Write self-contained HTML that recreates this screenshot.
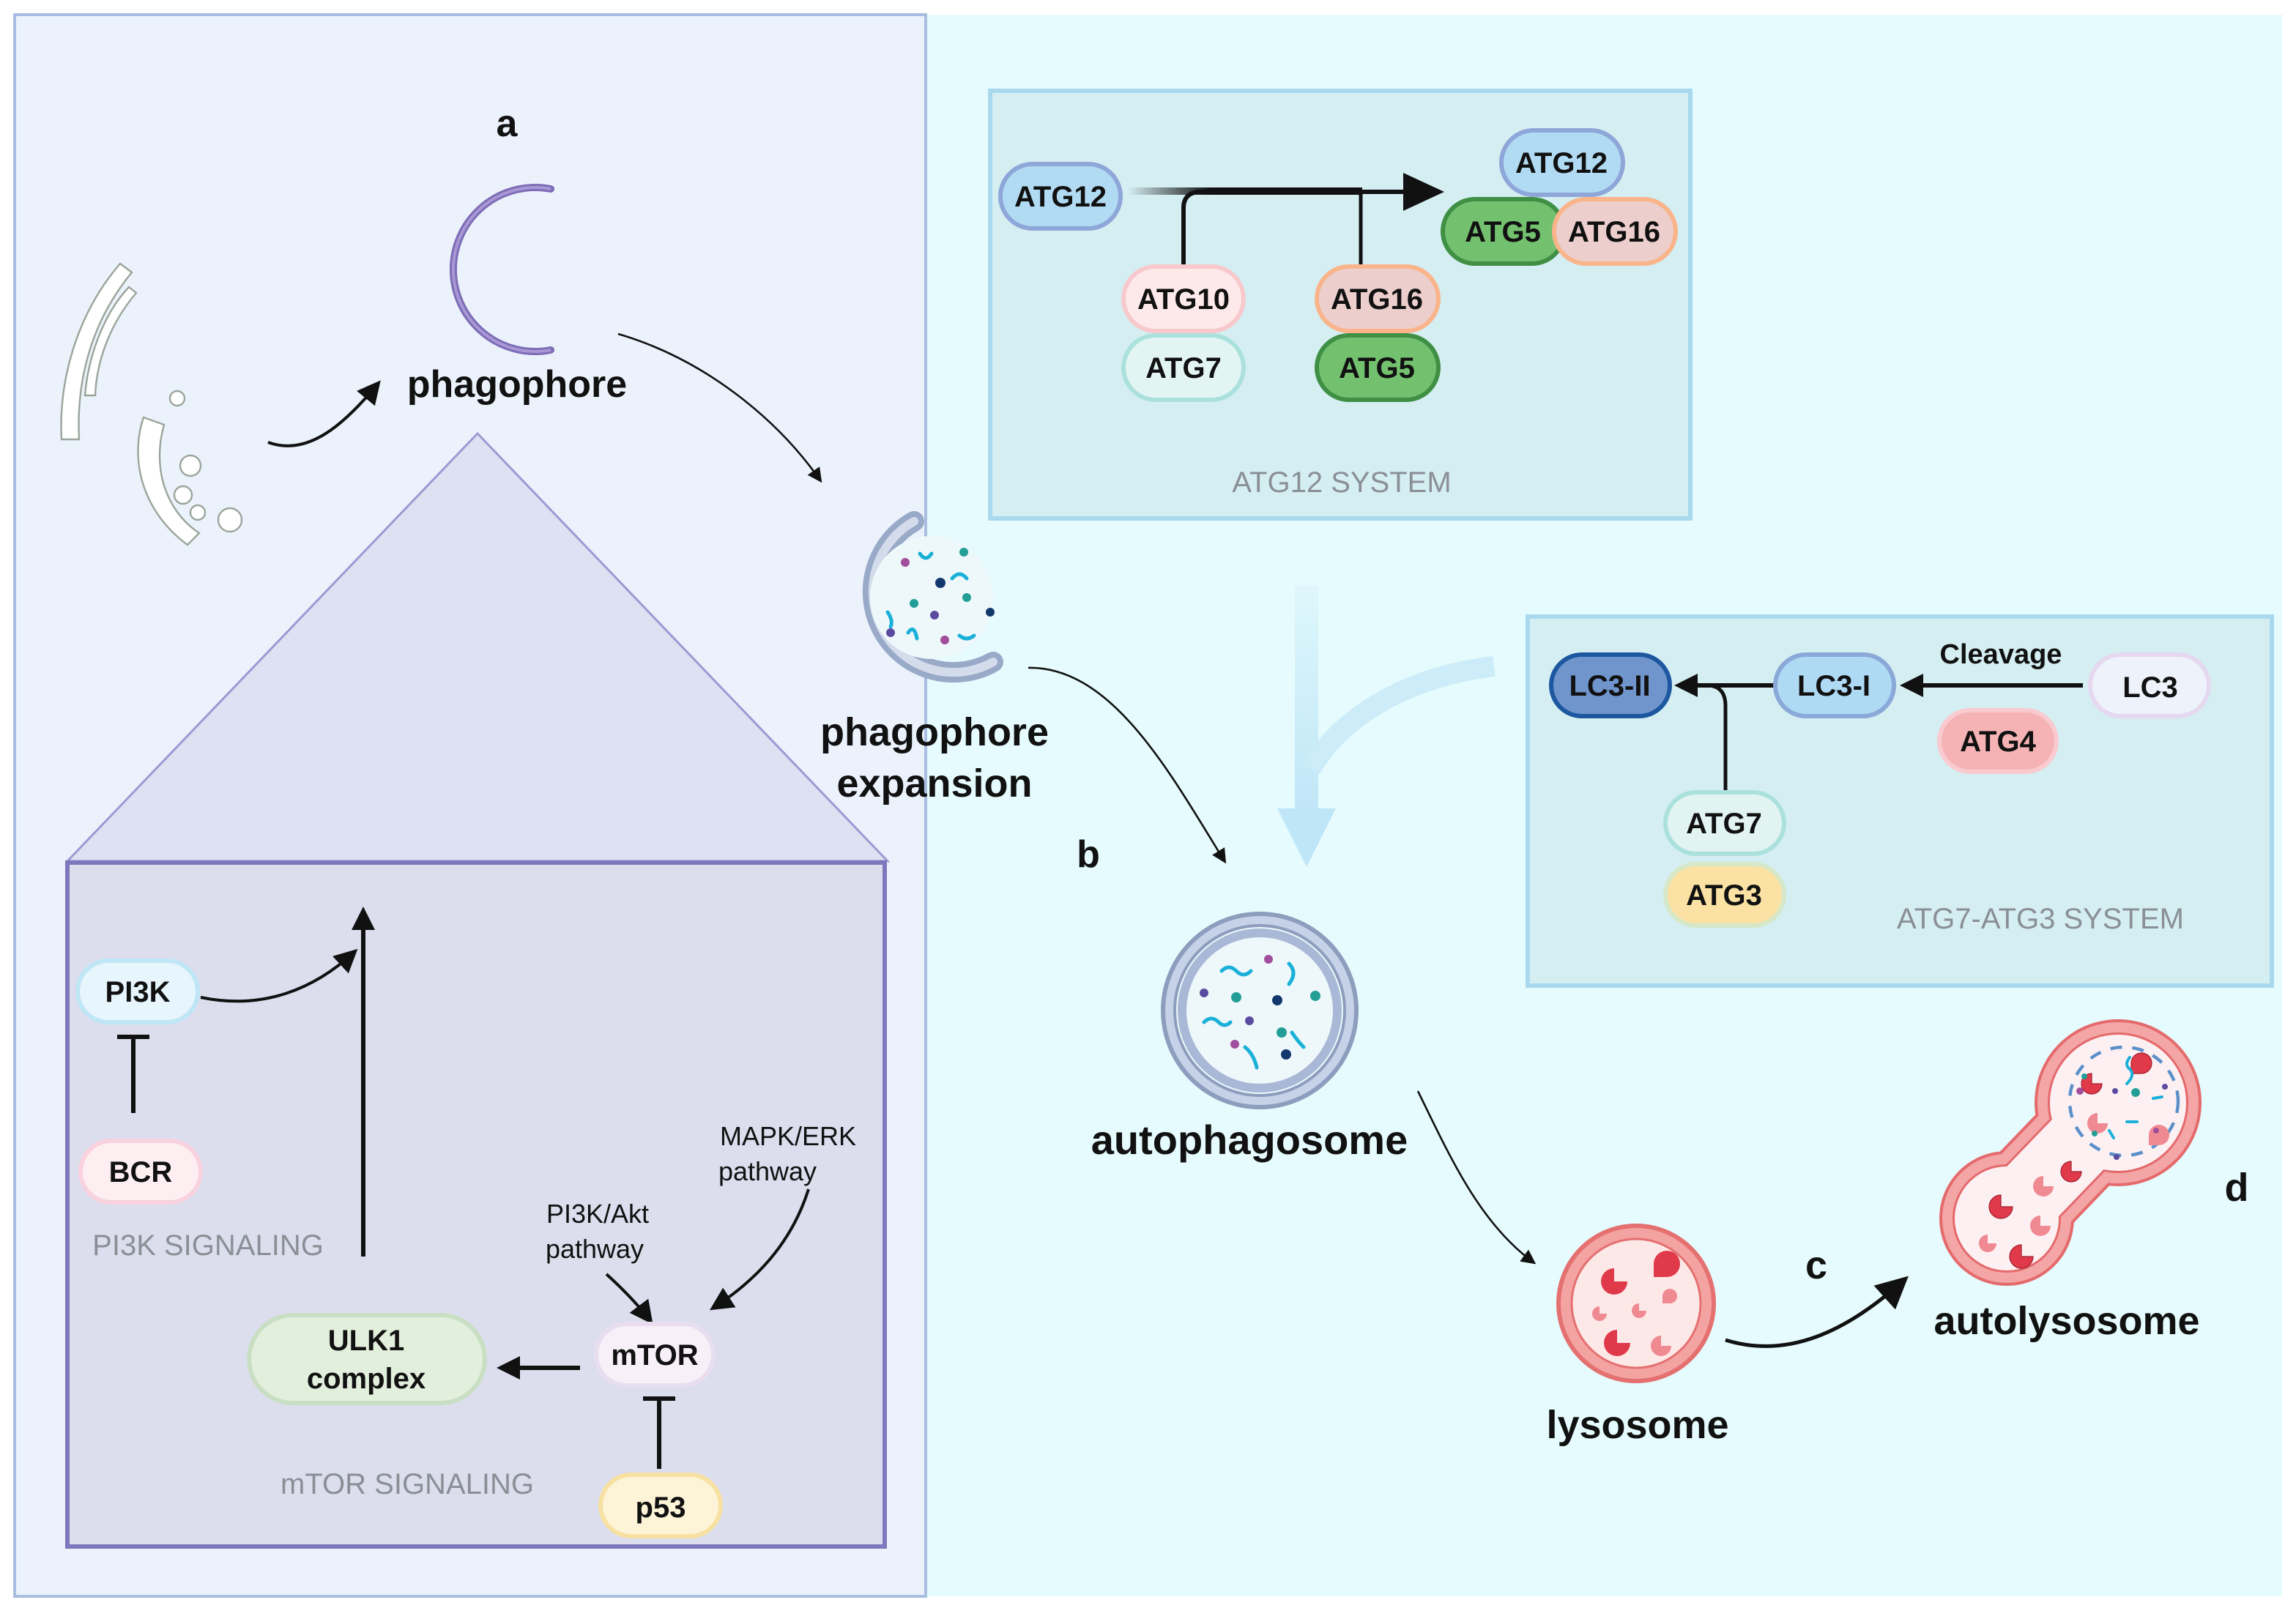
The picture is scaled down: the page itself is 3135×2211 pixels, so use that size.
<!DOCTYPE html>
<html><head><meta charset="utf-8"><style>
html,body{margin:0;padding:0;background:#fff;}
svg{display:block;}
text{font-family:"Liberation Sans Narrow","Liberation Sans",sans-serif;}
.b{font-weight:bold;fill:#111;}
.g{fill:#8a8f96;}
</style></head><body>
<svg width="3135" height="2211" viewBox="0 0 1567.5 1105.5" xmlns="http://www.w3.org/2000/svg">
<defs>
<marker id="ah" markerWidth="10" markerHeight="10" refX="8" refY="5" orient="auto" markerUnits="userSpaceOnUse"><path d="M0,0 L10,5 L0,10 z" fill="#111"/></marker>
<marker id="ahb" markerWidth="22" markerHeight="22" refX="18" refY="11" orient="auto" markerUnits="userSpaceOnUse"><path d="M0,0 L22,11 L0,22 z" fill="#111"/></marker>
<marker id="ahm" markerWidth="16" markerHeight="16" refX="13" refY="8" orient="auto" markerUnits="userSpaceOnUse"><path d="M0,0 L16,8 L0,16 z" fill="#111"/></marker>
<linearGradient id="fade" x1="0" x2="1"><stop offset="0" stop-color="#111" stop-opacity="0"/><stop offset="0.35" stop-color="#111"/></linearGradient>
<linearGradient id="bfade" x1="0" y1="0" x2="0" y2="1"><stop offset="0" stop-color="#bfe6f7" stop-opacity="0.2"/><stop offset="1" stop-color="#bfe6f7"/></linearGradient>
</defs>
<rect x="0" y="0" width="1568" height="1106" fill="#fff"/>
<rect x="632" y="10" width="926" height="1080" fill="#e6fbfd"/>
<rect x="10" y="10" width="622" height="1080" fill="#ebf2fc" stroke="#a8bde0" stroke-width="2"/>

<!-- house -->
<polygon points="326,296 46,588 606,588" fill="#dde1f1" stroke="#9c9ad3" stroke-width="1.5"/>
<rect x="46" y="589" width="558" height="467" fill="#dcdeee" stroke="#7f77bd" stroke-width="3"/>

<!-- ER & golgi -->
<g fill="#fff" stroke="#9aa59a" stroke-width="1.2">
<path d="M42,300 C40,260 52,215 82,180 L90,186 C62,220 52,260 54,300 Z"/>
<path d="M58,270 C60,245 70,215 88,196 L93,200 C76,220 66,245 65,270 Z"/>
<path d="M98,285 C88,315 98,350 128,372 L136,364 C112,348 104,318 112,290 Z"/>
<circle cx="121" cy="272" r="5"/><circle cx="130" cy="318" r="7"/><circle cx="125" cy="338" r="6"/><circle cx="157" cy="355" r="8"/>
<circle cx="135" cy="350" r="5"/>
</g>
<path d="M183,302 C210,312 235,290 258,262" fill="none" stroke="#111" stroke-width="2" marker-end="url(#ahm)"/>

<!-- phagophore -->
<text x="346" y="93" class="b" font-size="26" text-anchor="middle">a</text>
<path d="M376,129 A56,56 0 1 0 376,239" fill="none" stroke="#7e6cb6" stroke-width="5" stroke-linecap="round"/>
<path d="M376,129 A56,56 0 1 0 376,239" fill="none" stroke="#a898d6" stroke-width="2"/>
<text x="353" y="271" class="b" font-size="26" text-anchor="middle">phagophore</text>
<path d="M422,228 C480,245 530,285 560,328" fill="none" stroke="#111" stroke-width="1.3" marker-end="url(#ah)"/>

<!-- phagophore expansion -->
<path d="M624,356 A55,55 0 1 0 678,452" fill="none" stroke="#99a9c8" stroke-width="14" stroke-linecap="round"/>
<path d="M624,356 A55,55 0 1 0 678,452" fill="none" stroke="#d4dcec" stroke-width="6" stroke-linecap="round"/>
<circle cx="636" cy="408" r="42" fill="#eef8fb"/>
<g fill="none" stroke="#1ab0d8" stroke-width="2.5" stroke-linecap="round">
<path d="M628,378 q4,6 8,0"/><path d="M650,395 q5,-6 10,0"/><path d="M606,418 q4,6 2,10"/><path d="M620,432 q4,-6 6,4"/><path d="M655,434 q5,4 10,0"/>
</g>
<g><circle cx="618" cy="384" r="3" fill="#a14e9c"/><circle cx="658" cy="377" r="3" fill="#229e96"/><circle cx="642" cy="398" r="3.5" fill="#12386e"/><circle cx="624" cy="412" r="3" fill="#229e96"/><circle cx="660" cy="408" r="3" fill="#229e96"/><circle cx="676" cy="418" r="3" fill="#12386e"/><circle cx="608" cy="432" r="3" fill="#5b4ba0"/><circle cx="645" cy="437" r="3" fill="#a14e9c"/><circle cx="638" cy="420" r="3" fill="#5b4ba0"/></g>
<text x="638" y="509" class="b" font-size="27" text-anchor="middle">phagophore</text>
<text x="638" y="544" class="b" font-size="27" text-anchor="middle">expansion</text>
<text x="743" y="592" class="b" font-size="26" text-anchor="middle">b</text>
<path d="M702,456 C760,455 800,530 836,588" fill="none" stroke="#111" stroke-width="1.3" marker-end="url(#ah)"/>

<!-- blue flow arrows -->
<rect x="884" y="400" width="16" height="160" fill="url(#bfade)"/>
<polygon points="872,552 912,552 892,592" fill="#bfe6f7"/>
<path d="M1020,455 C960,462 915,490 895,525" fill="none" stroke="#cbecf8" stroke-width="14"/>

<!-- ATG12 system -->
<rect x="676" y="62" width="478" height="292" fill="#d5eef2" stroke="#a9d9ef" stroke-width="3"/>
<rect x="770" y="128" width="160" height="5" fill="url(#fade)"/>
<path d="M808,182 L808,142 Q808,131 820,131 L965,131" fill="none" stroke="#111" stroke-width="3"/>
<polygon points="958,118 986,131 958,144" fill="#111"/>
<line x1="929" y1="131" x2="929" y2="183" stroke="#111" stroke-width="2.5"/>
<g font-size="20" class="b" text-anchor="middle">
<rect x="683" y="112" width="82" height="44" rx="22" fill="#b1dbf3" stroke="#8ea6d8" stroke-width="3"/><text x="724" y="141">ATG12</text>
<rect x="767" y="182" width="82" height="44" rx="22" fill="#fde9ea" stroke="#f7c9cc" stroke-width="3"/><text x="808" y="211">ATG10</text>
<rect x="767" y="229" width="82" height="44" rx="22" fill="#e3f5f3" stroke="#abe1dc" stroke-width="3"/><text x="808" y="258">ATG7</text>
<rect x="899" y="182" width="83" height="44" rx="22" fill="#eccfcd" stroke="#f9b48a" stroke-width="3"/><text x="940" y="211">ATG16</text>
<rect x="899" y="229" width="83" height="44" rx="22" fill="#73c06f" stroke="#3f8f45" stroke-width="3"/><text x="940" y="258">ATG5</text>
<rect x="1025" y="89" width="83" height="44" rx="22" fill="#b1dbf3" stroke="#8ea6d8" stroke-width="3"/><text x="1066" y="118">ATG12</text>
<rect x="985" y="136" width="83" height="44" rx="22" fill="#73c06f" stroke="#3f8f45" stroke-width="3"/><text x="1026" y="165">ATG5</text>
<rect x="1061" y="136" width="83" height="44" rx="22" fill="#eccfcd" stroke="#f9b48a" stroke-width="3"/><text x="1102" y="165">ATG16</text>
</g>
<text x="916" y="336" class="g" font-size="20" text-anchor="middle">ATG12 SYSTEM</text>

<!-- ATG7-ATG3 system -->
<rect x="1043" y="421" width="508" height="252" fill="#d5eef2" stroke="#a9d9ef" stroke-width="3"/>
<line x1="1422" y1="468" x2="1300" y2="468" stroke="#111" stroke-width="3" marker-end="url(#ahm)"/>
<line x1="1212" y1="468" x2="1146" y2="468" stroke="#111" stroke-width="3" marker-end="url(#ahm)"/>
<path d="M1178,541 L1178,482 Q1178,468 1165,468" fill="none" stroke="#111" stroke-width="2.5"/>
<text x="1366" y="453" class="b" font-size="19" text-anchor="middle">Cleavage</text>
<g font-size="20" class="b" text-anchor="middle">
<rect x="1059" y="447" width="81" height="42" rx="21" fill="#6f95cc" stroke="#1d57a0" stroke-width="3"/><text x="1099" y="475">LC3-II</text>
<rect x="1212" y="447" width="81" height="42" rx="21" fill="#aedaf4" stroke="#8aa8d8" stroke-width="3"/><text x="1252" y="475">LC3-I</text>
<rect x="1427" y="447" width="81" height="42" rx="21" fill="#eef3fb" stroke="#e5d8ef" stroke-width="3"/><text x="1468" y="476">LC3</text>
<rect x="1324" y="485" width="80" height="42" rx="21" fill="#f5b3b5" stroke="#f9cbd0" stroke-width="3"/><text x="1364" y="513">ATG4</text>
<rect x="1137" y="541" width="81" height="42" rx="21" fill="#e2f4f1" stroke="#abe1dc" stroke-width="3"/><text x="1177" y="569">ATG7</text>
<rect x="1137" y="590" width="81" height="42" rx="21" fill="#fbe2a4" stroke="#d7e8c8" stroke-width="3"/><text x="1177" y="618">ATG3</text>
</g>
<text x="1393" y="634" class="g" font-size="20" text-anchor="middle">ATG7-ATG3 SYSTEM</text>

<!-- autophagosome -->
<circle cx="860" cy="690" r="66" fill="#c5d2e8" stroke="#8d9dbd" stroke-width="3"/>
<circle cx="860" cy="690" r="58" fill="#eef8fb" stroke="#8d9dbd" stroke-width="2"/>
<circle cx="860" cy="690" r="53" fill="#eef8fb" stroke="#a9b8d6" stroke-width="6"/>
<g fill="none" stroke="#1ab0d8" stroke-width="2.5" stroke-linecap="round">
<path d="M834,663 q5,-5 10,0 q5,5 10,0"/><path d="M880,658 q6,6 0,14"/><path d="M822,698 q5,-5 10,0 q4,4 8,0"/><path d="M882,705 q4,6 8,10"/><path d="M850,715 q6,5 8,14"/>
</g>
<g><circle cx="866" cy="655" r="3" fill="#a14e9c"/><circle cx="822" cy="678" r="3" fill="#5b4ba0"/><circle cx="844" cy="681" r="3.5" fill="#229e96"/><circle cx="872" cy="683" r="3.5" fill="#12386e"/><circle cx="898" cy="680" r="3.5" fill="#229e96"/><circle cx="853" cy="697" r="3" fill="#5b4ba0"/><circle cx="875" cy="705" r="3.5" fill="#229e96"/><circle cx="843" cy="713" r="3" fill="#a14e9c"/><circle cx="878" cy="720" r="3.5" fill="#12386e"/></g>
<text x="853" y="788" class="b" font-size="28" text-anchor="middle">autophagosome</text>
<path d="M968,745 C990,790 1010,835 1047,862" fill="none" stroke="#111" stroke-width="1.3" marker-end="url(#ah)"/>

<!-- lysosome -->
<circle cx="1117" cy="890" r="53" fill="#f4a3a3" stroke="#e57070" stroke-width="3"/>
<circle cx="1117" cy="890" r="44" fill="#fde8e8" stroke="#e57070" stroke-width="1.5"/>
<g fill="#e03a4a"><path d="M1102,866 a9,9 0 1 0 9,9 l-9,0z"/><path d="M1138,872 a9,9 0 1 0 -9,-9 l0,9z"/><path d="M1104,908 a9,9 0 1 0 9,9 l-9,0z"/></g>
<g fill="#f08a92"><path d="M1092,892 a5,5 0 1 0 5,5 l-5,0z"/><path d="M1119,890 a5,5 0 1 0 5,5 l-5,0z"/><path d="M1140,890 a5,5 0 1 0 -5,-5 l0,5z"/><path d="M1134,912 a7,7 0 1 0 7,7 l-7,0z"/></g>
<text x="1118" y="982" class="b" font-size="27" text-anchor="middle">lysosome</text>
<text x="1240" y="873" class="b" font-size="27" text-anchor="middle">c</text>
<path d="M1178,915 C1220,928 1260,910 1300,874" fill="none" stroke="#111" stroke-width="2.5" marker-end="url(#ahb)"/>

<!-- autolysosome -->
<g stroke-linecap="round">
<circle cx="1446" cy="753" r="57" fill="#e46a6c"/><circle cx="1370" cy="832" r="46" fill="#e46a6c"/>
<line x1="1446" y1="753" x2="1370" y2="832" stroke="#e46a6c" stroke-width="70"/>
<circle cx="1446" cy="753" r="55" fill="#f4a5a6"/><circle cx="1370" cy="832" r="44" fill="#f4a5a6"/>
<line x1="1446" y1="753" x2="1370" y2="832" stroke="#f4a5a6" stroke-width="66"/>
<circle cx="1446" cy="753" r="48" fill="#e46a6c"/><circle cx="1370" cy="832" r="37" fill="#e46a6c"/>
<line x1="1446" y1="753" x2="1370" y2="832" stroke="#e46a6c" stroke-width="52"/>
<circle cx="1446" cy="753" r="46.5" fill="#fdf0f2"/><circle cx="1370" cy="832" r="35.5" fill="#fdf0f2"/>
<line x1="1446" y1="753" x2="1370" y2="832" stroke="#fdf0f2" stroke-width="49"/>
</g>
<g fill="none" stroke="#5a8fc9" stroke-width="2.2" stroke-dasharray="8 7"><circle cx="1450" cy="752" r="37"/></g>
<g fill="#e03a4a" stroke="#a02030" stroke-width="0.6"><path d="M1428,733 a7,7 0 1 0 7,7 l-7,0z"/><path d="M1462,733 a7,7 0 1 0 -7,-7 l0,7z"/><path d="M1414,793 a7,7 0 1 0 7,7 l-7,0z"/><path d="M1366,816 a8,8 0 1 0 8,8 l-8,0z"/><path d="M1380,850 a8,8 0 1 0 8,8 l-8,0z"/></g>
<g fill="#f08a92"><path d="M1432,760 a7,7 0 1 0 7,7 l-7,0z"/><path d="M1474,782 a7,7 0 1 0 -7,-7 l0,7z"/><path d="M1395,803 a7,7 0 1 0 7,7 l-7,0z"/><path d="M1393,830 a7,7 0 1 0 7,7 l-7,0z"/><path d="M1357,843 a6,6 0 1 0 6,6 l-6,0z"/></g>
<g fill="none" stroke="#1ab0d8" stroke-width="2" stroke-linecap="round"><path d="M1454,722 q-4,5 0,8 q4,4 -2,10"/><path d="M1440,772 l3,5"/><path d="M1452,766 l7,0"/><path d="M1470,750 l6,-1"/></g>
<g><circle cx="1458" cy="746" r="3" fill="#229e96"/><circle cx="1444" cy="745" r="2" fill="#5b4ba0"/><circle cx="1420" cy="745" r="2.5" fill="#a14e9c"/><circle cx="1430" cy="774" r="2" fill="#229e96"/><circle cx="1445" cy="790" r="2" fill="#5b4ba0"/><circle cx="1472" cy="772" r="2" fill="#a14e9c"/><circle cx="1478" cy="742" r="2" fill="#5b4ba0"/><circle cx="1423" cy="735" r="2" fill="#229e96"/></g>
<text x="1411" y="911" class="b" font-size="27" text-anchor="middle">autolysosome</text>
<text x="1527" y="820" class="b" font-size="27" text-anchor="middle">d</text>

<!-- left signaling -->
<line x1="248" y1="858" x2="248" y2="622" stroke="#111" stroke-width="3" marker-end="url(#ahm)"/>
<path d="M137,681 C180,690 215,675 242,650" fill="none" stroke="#111" stroke-width="2" marker-end="url(#ahm)"/>
<line x1="91" y1="760" x2="91" y2="708" stroke="#111" stroke-width="3"/><line x1="80" y1="708" x2="102" y2="708" stroke="#111" stroke-width="3"/>
<line x1="450" y1="1003" x2="450" y2="955" stroke="#111" stroke-width="3"/><line x1="439" y1="955" x2="461" y2="955" stroke="#111" stroke-width="3"/>
<line x1="396" y1="934" x2="342" y2="934" stroke="#111" stroke-width="3" marker-end="url(#ahm)"/>
<path d="M414,870 C425,880 435,890 444,902" fill="none" stroke="#111" stroke-width="2" marker-end="url(#ahm)"/>
<path d="M552,812 C540,850 515,875 487,893" fill="none" stroke="#111" stroke-width="2" marker-end="url(#ahm)"/>
<g font-size="20" class="b" text-anchor="middle">
<rect x="53" y="656" width="82" height="42" rx="21" fill="#e7f5fc" stroke="#bfe6f5" stroke-width="3"/><text x="94" y="684">PI3K</text>
<rect x="55" y="779" width="82" height="42" rx="21" fill="#fdeef2" stroke="#f8d2de" stroke-width="3"/><text x="96" y="807">BCR</text>
<rect x="407" y="904" width="80" height="42" rx="21" fill="#f7f0f8" stroke="#e8def0" stroke-width="3"/><text x="447" y="932">mTOR</text>
<rect x="410" y="1007" width="82" height="42" rx="21" fill="#fdf3d6" stroke="#f7e1a2" stroke-width="3"/><text x="451" y="1036">p53</text>
<rect x="170" y="898" width="161" height="60" rx="30" fill="#e2efdc" stroke="#c9dfc4" stroke-width="3"/><text x="250" y="922">ULK1</text><text x="250" y="948">complex</text>
</g>
<text x="142" y="857" class="g" font-size="20" text-anchor="middle">PI3K SIGNALING</text>
<text x="278" y="1020" class="g" font-size="20" text-anchor="middle">mTOR  SIGNALING</text>
<g font-size="18" fill="#111" text-anchor="middle">
<text x="408" y="835">PI3K/Akt</text><text x="406" y="859">pathway</text>
<text x="538" y="782">MAPK/ERK</text><text x="524" y="806">pathway</text>
</g>
</svg>
</body></html>
